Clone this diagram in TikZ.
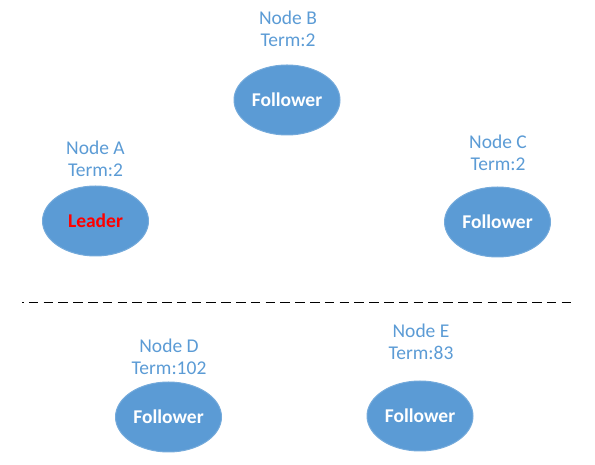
\documentclass[tikz,border=0pt]{standalone}
\usepackage{fontspec}
\setmainfont{Carlito}
\usetikzlibrary{shapes.geometric}
\definecolor{officeblue}{HTML}{5B9BD5}
\tikzset{
  x=1bp,y=1bp,
  server/.style={ellipse,fill=officeblue,draw=officeblue!85!white,line width=1bp,
    minimum width=106bp,minimum height=70bp,inner sep=0pt,
    font=\fontsize{19.5bp}{22bp}\selectfont\bfseries,text=white},
  label/.style={align=center,text=officeblue,inner sep=0pt,
    font=\fontsize{19.5bp}{22.5bp}\selectfont},
  divider/.style={draw=black,line width=1.6bp,dash pattern=on 9.5bp off 5.3bp,dash phase=8bp}
}
\begin{document}
\begin{tikzpicture}
\useasboundingbox (0,0) rectangle (595,465);
% Node B
\node[label] (lb) at (288,436) {Node B\\Term:2};
\node[server] (b) at (287,365) {Follower};
% Node A
\node[label] (la) at (95.5,306) {Node A\\Term:2};
\node[server] (a) at (95.5,244) {\textcolor{red}{Leader}};
% Node C
\node[label] (lc) at (498,312) {Node C\\Term:2};
\node[server] (c) at (497.5,243) {Follower};
% divider
\coordinate (dl) at (22,162.5);
\coordinate (dr) at (573,162.5);
\draw[divider] (dl) -- (dr);
% Node D
\node[label] (ld) at (169,108) {Node D\\Term:102};
\node[server] (d) at (168.5,48) {Follower};
% Node E
\node[label] (le) at (421,123) {Node E\\Term:83};
\node[server] (e) at (420,49) {Follower};
\end{tikzpicture}
\end{document}
